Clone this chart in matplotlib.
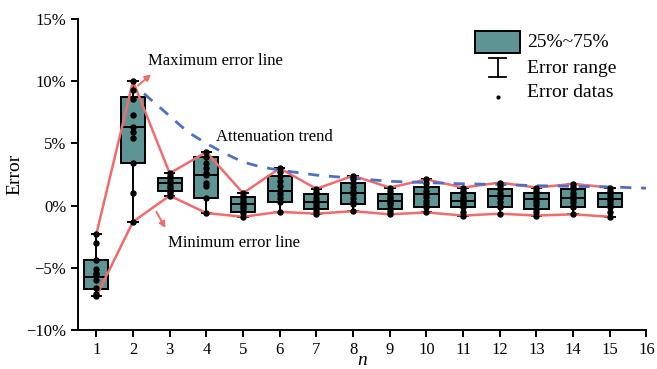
import matplotlib
matplotlib.use("Agg")
import matplotlib.pyplot as plt
from matplotlib.patches import Rectangle
from matplotlib.ticker import FuncFormatter

plt.rcParams['font.family'] = ['Liberation Serif', 'DejaVu Serif']

n = list(range(1, 16))

# error samples (%) for each n
pts = [
    [-2.3, -3.0, -4.4, -5.1, -5.4, -5.6, -6.0, -6.6, -7.1, -7.3],
    [10.0, 9.3, 8.6, 7.3, 6.3, 5.9, 5.4, 3.4, 1.0, -1.3],
    [2.6, 2.4, 2.2, 2.0, 1.8, 1.6, 1.4, 1.2, 1.0, 0.8],
    [4.3, 3.9, 3.4, 3.0, 2.6, 2.5, 1.8, 1.6, 0.6, -0.6],
    [1.0, 0.8, 0.6, 0.4, 0.2, 0.0, -0.2, -0.4, -0.6, -0.9],
    [3.0, 2.7, 2.4, 2.0, 1.6, 1.2, 0.9, 0.6, 0.3, -0.5],
    [1.35, 1.1, 0.9, 0.6, 0.4, 0.2, 0.0, -0.2, -0.4, -0.65],
    [2.4, 2.1, 1.8, 1.5, 1.2, 0.9, 0.6, 0.3, 0.1, -0.45],
    [1.45, 1.2, 0.95, 0.7, 0.5, 0.3, 0.1, -0.2, -0.45, -0.7],
    [2.1, 1.8, 1.5, 1.2, 0.95, 0.7, 0.4, 0.1, -0.1, -0.55],
    [1.45, 1.2, 1.0, 0.7, 0.5, 0.3, 0.1, -0.15, -0.5, -0.8],
    [1.85, 1.6, 1.3, 1.05, 0.8, 0.6, 0.3, 0.0, -0.15, -0.65],
    [1.45, 1.2, 1.0, 0.75, 0.5, 0.3, 0.05, -0.25, -0.5, -0.8],
    [1.75, 1.5, 1.3, 1.0, 0.8, 0.55, 0.3, 0.0, -0.15, -0.7],
    [1.45, 1.2, 1.0, 0.75, 0.55, 0.35, 0.1, -0.15, -0.5, -0.9],
]
q3 = [-4.4, 8.7, 2.2, 3.9, 0.7, 2.4, 0.95, 1.8, 0.95, 1.5, 1.0, 1.3, 1.0, 1.3, 1.0]
med = [-5.7, 6.3, 1.85, 2.5, 0.15, 1.2, 0.25, 1.0, 0.4, 0.95, 0.4, 0.8, 0.5, 0.65, 0.55]
q1 = [-6.7, 3.4, 1.2, 0.6, -0.5, 0.3, -0.25, 0.15, -0.25, -0.1, -0.15, -0.15, -0.25, -0.15, -0.15]

# attenuation trend
trend_x = [2.3, 3, 3.5, 4, 4.5, 5, 5.5, 6, 7, 8, 9, 10, 11, 12, 13, 14, 15, 16]
trend_y = [9.0, 7.2, 5.9, 5.0, 4.2, 3.5, 3.1, 2.85, 2.45, 2.2, 1.95, 1.85, 1.75, 1.7, 1.6, 1.55, 1.5, 1.4]

hi = [max(p) for p in pts]
lo = [min(p) for p in pts]

teal = '#5e9594'
red = '#f26b6b'
blue = '#4f6fc4'

fig = plt.figure(figsize=(6.57, 3.69), dpi=100)
ax = fig.add_axes([0.1187, 0.1057, 0.8653, 0.8428])

stats = []
for i in range(len(n)):
    stats.append({'med': med[i], 'q1': q1[i], 'q3': q3[i],
                  'whislo': lo[i], 'whishi': hi[i], 'fliers': []})
ax.bxp(stats, positions=n, widths=0.66, patch_artist=True,
       boxprops=dict(facecolor=teal, edgecolor='black', linewidth=1.4),
       medianprops=dict(color='black', linewidth=1.4),
       whiskerprops=dict(color='black', linewidth=1.4),
       capprops=dict(color='black', linewidth=1.4),
       capwidths=0.26, zorder=2)

ax.plot(n, hi, color=red, lw=1.8, zorder=3)
ax.plot(n, lo, color=red, lw=1.8, zorder=3)
ax.plot(trend_x, trend_y, color=blue, lw=2, ls=(0, (4, 3.5)), zorder=3)

for i in range(len(n)):
    ax.plot([n[i]] * len(pts[i]), pts[i], 'o', color='black', ms=3.6, zorder=4)

ax.annotate('', xy=(2.55, 10.7), xytext=(2.08, 9.5),
            arrowprops=dict(arrowstyle='-|>', color=red, lw=1.4, mutation_scale=9))
ax.text(2.42, 11.6, 'Maximum error line', fontsize=12, va='center')
ax.annotate('', xy=(2.92, -2.0), xytext=(2.6, -0.3),
            arrowprops=dict(arrowstyle='-|>', color=red, lw=1.4, mutation_scale=9))
ax.text(2.95, -3.0, 'Minimum error line', fontsize=12, va='center')
ax.text(4.27, 5.5, 'Attenuation trend', fontsize=12, va='center')

# legend drawn by hand
tr = ax.transAxes
ax.add_patch(Rectangle((0.698, 0.891), 0.079, 0.07, transform=tr, facecolor=teal,
                       edgecolor='black', lw=1.4, clip_on=False))
ax.plot([0.738, 0.738], [0.813, 0.875], transform=tr, color='black', lw=1.3, clip_on=False)
ax.plot([0.723, 0.753], [0.875, 0.875], transform=tr, color='black', lw=1.3, clip_on=False)
ax.plot([0.723, 0.753], [0.813, 0.813], transform=tr, color='black', lw=1.3, clip_on=False)
ax.plot([0.738], [0.748], 'o', transform=tr, color='black', ms=2, clip_on=False)
ax.text(0.79, 0.926, '25%~75%', transform=tr, fontsize=14, va='center')
ax.text(0.79, 0.842, 'Error range', transform=tr, fontsize=14, va='center')
ax.text(0.79, 0.765, 'Error datas', transform=tr, fontsize=14, va='center')

ax.set_xlim(0.5, 16)
ax.set_ylim(-10, 15)
ax.set_xticks(range(1, 17))
ax.set_xticklabels([str(i) for i in range(1, 17)])
ax.set_yticks([-10, -5, 0, 5, 10, 15])
ax.yaxis.set_major_formatter(FuncFormatter(lambda v, p: ('\u2212' if v < 0 else '') + '%d%%' % abs(v)))
ax.tick_params(labelsize=12, width=1.4, length=5, direction='out')
for s in ['top', 'right']:
    ax.spines[s].set_visible(False)
for s in ['left', 'bottom']:
    ax.spines[s].set_linewidth(1.4)
ax.set_xlabel('n', fontsize=14, style='italic', labelpad=-4)
ax.set_ylabel('Error', fontsize=14, labelpad=2)

fig.savefig('out.png', dpi=100)
